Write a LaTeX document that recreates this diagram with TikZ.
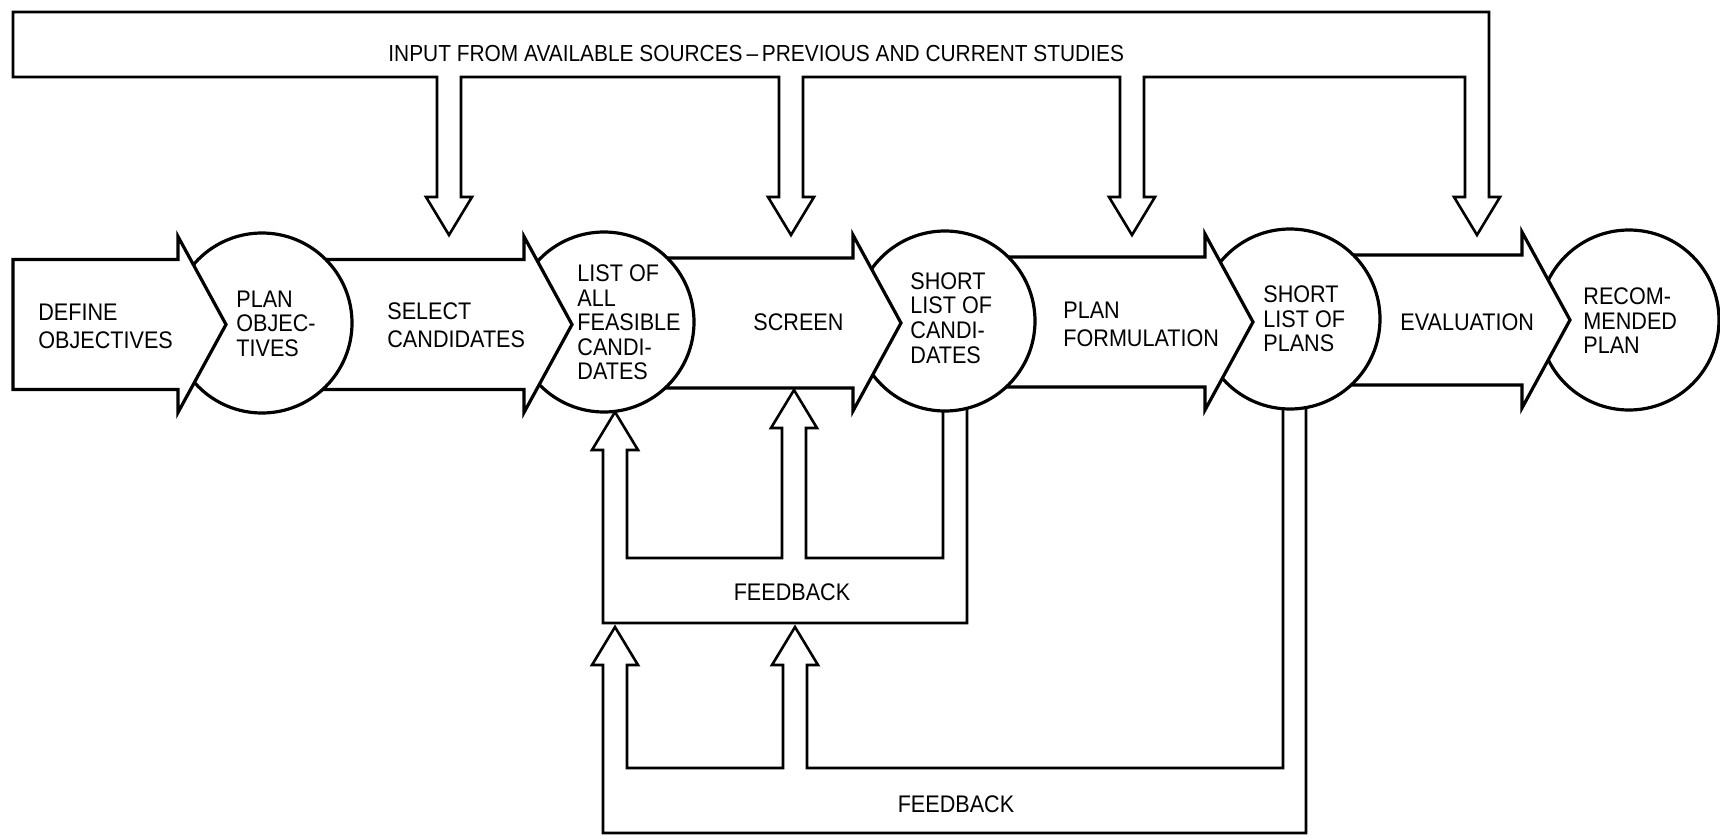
\documentclass[tikz,border=0pt]{standalone}
\usepackage{fontspec}
\setmainfont{Liberation Sans}[FakeStretch=0.9]
\usepackage{tikz}
\usetikzlibrary{calc,backgrounds}
% open heads of the hollow input / feedback pipes
\newcommand{\headdn}[1]{-- ++(-11,0) -- (#1) -- ++(23,-38) -- ++(-11,0)}
\newcommand{\headup}[1]{-- ++(11,0) -- (#1) -- ++(-23,38) -- ++(11,0)}
% broad step arrow: name, tail x, tip x, mid y
\newcommand{\steparrow}[4]{%
  \draw[stepline] (#2,#4-65) -- (#3-48,#4-65) -- (#3-48,#4-88) -- (#3,#4)
    -- (#3-48,#4+88) -- (#3-48,#4+65) -- (#2,#4+65) -- cycle;
  \coordinate (#1) at (#3,#4);}

\begin{document}
\begin{tikzpicture}[x=0.5pt, y=-0.5pt,
  every node/.style={font=\fontsize{12}{13.8}\selectfont},
  stepline/.style={draw, fill=white, line width=1.6pt},
  res/.style={circle, draw, fill=white, line width=1.6pt, inner sep=0pt,
              minimum size=90pt},
  lbl/.style={align=left, anchor=west, inner sep=0pt},
  rlbl/.style={lbl, font=\fontsize{12}{12.3}\selectfont},
  pipe/.style={line width=1.3pt}]
  \useasboundingbox (0,0) rectangle (1720,835);
  % main chain, right to left so that each head lies over its circle
  \node[res] (c5) at (1629,320) {};
  \steparrow{a5}{1320}{1570}{320}
  \node[res] (c4) at (1290,319) {};
  \steparrow{a4}{980}{1253}{322}
  \node[res] (c3) at (945,321) {};
  \steparrow{a3}{640}{901}{323}
  \node[res] (c2) at (604,322) {};
  \steparrow{a2}{300}{572}{324.5}
  \node[res] (c1) at (262,323) {};
  \steparrow{a1}{13}{226}{324.5}
  \node[lbl] (t1) at (38,326.5) {DEFINE\\OBJECTIVES};
  \node[lbl] (t2) at (387,325.5) {SELECT\\CANDIDATES};
  \node[lbl] (t3) at (753,322.5) {SCREEN};
  \node[lbl] (t4) at (1063,324.5) {PLAN\\FORMULATION};
  \node[lbl] (t5) at (1400,322) {EVALUATION};
  \node[rlbl] (r1) at (236,323.5) {PLAN\\OBJEC-\\TIVES};
  \node[rlbl] (r2) at (577,322.5) {LIST OF\\ALL\\FEASIBLE\\CANDI-\\DATES};
  \node[rlbl] (r3) at (910,318) {SHORT\\LIST OF\\CANDI-\\DATES};
  \node[rlbl] (r4) at (1263,319) {SHORT\\LIST OF\\PLANS};
  \node[rlbl] (r5) at (1583,321) {RECOM-\\MENDED\\PLAN};
  % input from the top
  \coordinate (in1) at (449,235);
  \coordinate (in2) at (791,235);
  \coordinate (in3) at (1132,235);
  \coordinate (in4) at (1477,235);
  \draw[pipe] (13,77) -| ($(in1)+(-12,-38)$) \headdn{in1}
    |- ($(in2)+(-12,-158)$) -- ++(0,120) \headdn{in2}
    |- ($(in3)+(-12,-158)$) -- ++(0,120) \headdn{in3}
    |- ($(in4)+(-12,-158)$) -- ++(0,120) \headdn{in4}
    |- (13,12) -- cycle;
  \node[lbl, font=\fontsize{11.6}{13}\selectfont] (src) at (388,53.5)
    {INPUT FROM AVAILABLE SOURCES\,--\,PREVIOUS AND CURRENT STUDIES};
  % feedback loops
  \coordinate (f1) at (615,412);
  \coordinate (f2) at (794,390);
  \coordinate (f3) at (615,627);
  \coordinate (f4) at (795,627);
  \begin{scope}[on background layer]
    \draw[pipe] ($(c3)+(-2,0)$) |- ($(f2)+(12,168)$) -- ++(0,-130) \headup{f2}
      |- ($(f1)+(12,146)$) -- ++(0,-108) \headup{f1}
      |- ($(c3)+(22,302)$) -- ($(c3)+(22,0)$);
    \draw[pipe] ($(c4)+(-7,0)$) |- ($(f4)+(12,141)$) -- ++(0,-103) \headup{f4}
      |- ($(f3)+(12,141)$) -- ++(0,-103) \headup{f3}
      |- ($(c4)+(16,514)$) -- ($(c4)+(16,0)$);
  \end{scope}
  \node (fb1) at (792,592) {FEEDBACK};
  \node (fb2) at (956,804) {FEEDBACK};
\end{tikzpicture}
\end{document}
